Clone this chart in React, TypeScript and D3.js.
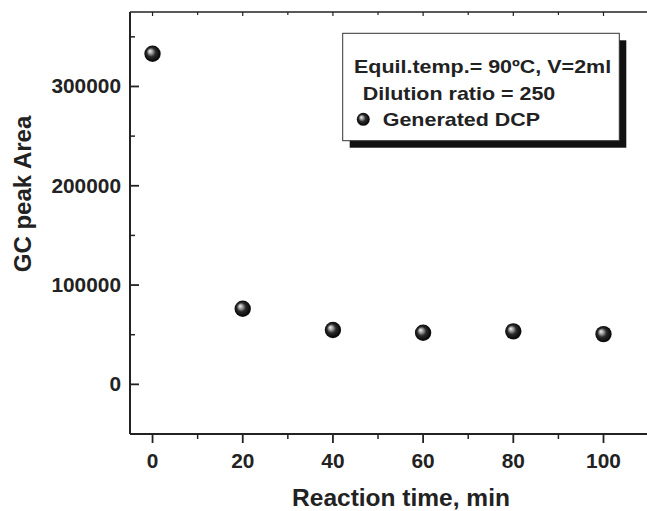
import React from "react";
import * as d3 from "d3";

const times = [0, 20, 40, 60, 80, 100];
const areas = [333000, 76200, 54700, 52000, 53400, 50600];
const xTicks = [0, 20, 40, 60, 80, 100];
const xMinor = [10, 30, 50, 70, 90];
const yTicks = [0, 100000, 200000, 300000];
const yMinor = [50000, 150000, 250000, 350000];
const legendLines = ["Equil.temp.= 90ºC, V=2ml", "Dilution ratio = 250", "Generated DCP"];

const W = 647, H = 511;
const x = d3.scaleLinear().domain([-5, 110]).range([130, 648.6]);
const y = d3.scaleLinear().domain([-50000, 375000]).range([434, 12]);

const FONT = "'Liberation Sans', Arial, sans-serif";
const AX = "#222";

export default function App() {
  const x0 = x.range()[0];
  const y0 = y.range()[0];
  const yTop = y.range()[1];
  return (
    <svg width={W} height={H} style={{ position: "absolute", left: 0, top: 0, background: "#fff" }}
      fontFamily={FONT} fontWeight="bold">
      <defs>
        <radialGradient id="ball" cx="0.5" cy="0.5" r="0.55" fx="0.33" fy="0.33">
          <stop offset="0" stopColor="#f4f4f4" />
          <stop offset="0.25" stopColor="#9a9a9a" />
          <stop offset="0.5" stopColor="#2a2a2a" />
          <stop offset="0.85" stopColor="#0a0a0a" />
          <stop offset="1" stopColor="#333" />
        </radialGradient>
      </defs>
      {/* spines */}
      <line x1={x0} x2={W + 2} y1={y0} y2={y0} stroke={AX} strokeWidth={2} />
      <line x1={x0} x2={W + 2} y1={yTop} y2={yTop} stroke={AX} strokeWidth={1.5} />
      <line x1={x0} x2={x0} y1={yTop} y2={y0} stroke={AX} strokeWidth={2} />
      {/* x ticks */}
      {xTicks.map((t) => (
        <g key={"xt" + t}>
          <line x1={x(t)} x2={x(t)} y1={y0} y2={y0 + 9} stroke={AX} strokeWidth={1.8} />
          <line x1={x(t)} x2={x(t)} y1={yTop} y2={yTop + 4} stroke={AX} strokeWidth={1.2} />
          <text transform={`translate(${x(t)},467.5) scale(1.07,1)`} textAnchor="middle" fontSize={19.5} fill="#222">{t}</text>
        </g>
      ))}
      {xMinor.map((t) => (
        <g key={"xm" + t}>
          <line x1={x(t)} x2={x(t)} y1={y0} y2={y0 + 5} stroke={AX} strokeWidth={1.5} />
          <line x1={x(t)} x2={x(t)} y1={yTop} y2={yTop + 3} stroke={AX} strokeWidth={1.2} />
        </g>
      ))}
      {/* y ticks */}
      {yTicks.map((t) => (
        <g key={"yt" + t}>
          <line x1={x0} x2={x0 + 9} y1={y(t)} y2={y(t)} stroke={AX} strokeWidth={1.8} />
          <text transform={`translate(121,${y(t) + 7}) scale(1.07,1)`} textAnchor="end" fontSize={19.5} fill="#222">{t}</text>
        </g>
      ))}
      {yMinor.map((t) => (
        <line key={"ym" + t} x1={x0} x2={x0 + 5} y1={y(t)} y2={y(t)} stroke={AX} strokeWidth={1.5} />
      ))}
      {/* axis titles */}
      <text x={401} y={506} textAnchor="middle" fontSize={24.5} fill="#222">Reaction time, min</text>
      <text transform={`translate(31,194) rotate(-90)`} textAnchor="middle" fontSize={24} fill="#222">GC peak Area</text>
      {/* points */}
      {times.map((t, i) => (
        <circle key={"p" + t} cx={x(t)} cy={y(areas[i])} r={8.2} fill="url(#ball)" />
      ))}
      {/* legend */}
      <rect x={349.7} y={40.3} width={276.6} height={107.4} fill="#111" />
      <rect x={342.7} y={33.3} width={276.6} height={107.4} fill="#fff" stroke="#333" strokeWidth={1} />
      <text transform="translate(354,73) scale(1.13,1)" fontSize={19} fill="#222">{legendLines[0]}</text>
      <text transform="translate(362.7,99.5) scale(1.13,1)" fontSize={19} fill="#222">{legendLines[1]}</text>
      <circle cx={363.3} cy={119.3} r={6.5} fill="url(#ball)" />
      <text transform="translate(382.7,126) scale(1.13,1)" fontSize={19} fill="#222">{legendLines[2]}</text>
    </svg>
  );
}
